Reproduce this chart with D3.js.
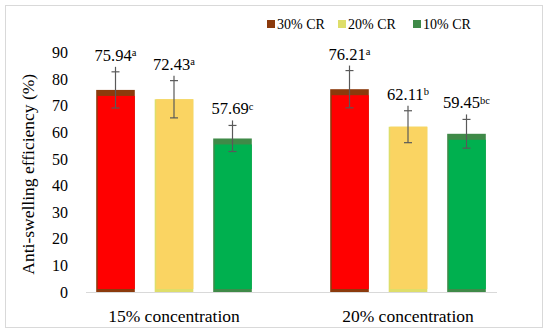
<!DOCTYPE html>
<html>
<head>
<meta charset="utf-8">
<script src="https://cdn.jsdelivr.net/npm/d3@7"></script>
<style>
  body { margin: 0; background: #fff; }
  svg { display: block; font-family: "Liberation Serif", "DejaVu Serif", serif; }
</style>
</head>
<body>
<div id="app"></div>
<script>
const width = 550,
  height = 335;

// data
const groups = ["15% concentration", "20% concentration"];
const series = ["30% CR", "20% CR", "10% CR"];
const means = [
  [75.94, 72.43, 57.69],
  [76.21, 62.11, 59.45]
];
const errors = [
  [6.8, 7.0, 4.9],
  [7.0, 6.0, 5.4]
];
const letters = [
  ["a", "a", "c"],
  ["a", "b", "bc"]
];
const yTicks = [0, 10, 20, 30, 40, 50, 60, 70, 80, 90];

const barColor = ["#ff0000", "#fad462", "#00b04f"];
const edgeColor = ["#8b3a0c", "#dede6a", "#3f8a48"];
const topBand = [6, 0, 6];

const svg = d3.select("#app")
  .append("svg")
  .attr("width", width)
  .attr("height", height);

// chart frame
svg.append("rect")
  .attr("x", 5.5)
  .attr("y", 5.5)
  .attr("width", 537)
  .attr("height", 322)
  .style("fill", "none")
  .style("stroke", "#d9d9d9");

const y = d3.scaleLinear()
  .domain([0, 90])
  .range([292, 52.5]);

const x0 = d3.scaleBand()
  .domain(groups)
  .range([57, 525]);

const x1 = d3.scaleBand()
  .domain(series)
  .range([0, x0.bandwidth()])
  .paddingInner(0.34)
  .paddingOuter(0.67);

// y tick labels (no axis line)
const yAxis = svg.append("g")
  .attr("transform", "translate(76,0)")
  .call(d3.axisLeft(y).tickValues(yTicks).tickSize(0).tickPadding(8));
yAxis.select(".domain").remove();
yAxis.selectAll("text")
  .style("font-family", "Liberation Serif, serif")
  .style("font-size", "16px")
  .attr("fill", "#000");

svg.append("text")
  .attr("transform", `translate(34,${(y(0) + y(90)) / 2 + 2}) rotate(-90)`)
  .style("text-anchor", "middle")
  .style("font-size", "17.5px")
  .text("Anti-swelling efficiency (%)");

// rows of bars
const rows = groups.map((g, gi) => series.map((s, si) => ({
  g: g, s: s, si: si,
  v: means[gi][si],
  e: errors[gi][si],
  l: letters[gi][si]
})));

const gGroups = svg.append("g")
  .selectAll("g")
  .data(rows)
  .join("g")
  .attr("transform", (d, i) => `translate(${x0(groups[i])},0)`);

const cells = gGroups.selectAll("g.cell")
  .data(d => d)
  .join("g")
  .attr("class", "cell");

// darker under-bar (edge colour), then bright fill on top
cells.append("rect")
  .attr("x", d => x1(d.s))
  .attr("y", d => y(d.v))
  .attr("width", x1.bandwidth())
  .attr("height", d => y(0) - y(d.v))
  .style("fill", d => edgeColor[d.si]);

cells.append("rect")
  .attr("x", d => x1(d.s) + 1.5)
  .attr("y", d => y(d.v) + topBand[d.si])
  .attr("width", x1.bandwidth() - 1.5)
  .attr("height", d => y(0) - y(d.v) - topBand[d.si] - 3)
  .style("fill", d => barColor[d.si]);

// error bars
const cx = d => x1(d.s) + x1.bandwidth() / 2;
cells.append("line")
  .attr("x1", cx).attr("x2", cx)
  .attr("y1", d => y(d.v + d.e) - 5)
  .attr("y2", d => y(d.v - d.e))
  .style("stroke", "#595959")
  .style("stroke-width", 1.2);
cells.append("line")
  .attr("x1", d => cx(d) - 4).attr("x2", d => cx(d) + 4)
  .attr("y1", d => y(d.v + d.e)).attr("y2", d => y(d.v + d.e))
  .style("stroke", "#595959")
  .style("stroke-width", 1.2);
cells.append("line")
  .attr("x1", d => cx(d) - 4).attr("x2", d => cx(d) + 4)
  .attr("y1", d => y(d.v - d.e)).attr("y2", d => y(d.v - d.e))
  .style("stroke", "#595959")
  .style("stroke-width", 1.2);

// value labels with superscript letters
const lab = cells.append("text")
  .attr("x", cx)
  .attr("y", d => y(d.v + d.e) - 11)
  .style("text-anchor", "middle")
  .style("font-size", "16.5px");
lab.append("tspan").text(d => d.v.toFixed(2));
lab.append("tspan")
  .attr("dy", "-0.45em")
  .style("font-size", "10.5px")
  .text(d => d.l);

// horizontal axis line
svg.append("line")
  .attr("x1", 86).attr("x2", 497)
  .attr("y1", y(0) + 0.5).attr("y2", y(0) + 0.5)
  .style("stroke", "#d9d9d9");

svg.append("g")
  .selectAll("text")
  .data(groups)
  .join("text")
  .attr("x", d => x0(d) + x0.bandwidth() / 2)
  .attr("y", 322)
  .style("text-anchor", "middle")
  .style("font-size", "17.5px")
  .text(d => d);

// legend
const legendX = [267, 338, 413];
const legend = svg.append("g")
  .selectAll("g")
  .data(series)
  .join("g")
  .attr("transform", (d, i) => `translate(${legendX[i]},20)`);
legend.append("rect")
  .attr("width", 8).attr("height", 8)
  .style("fill", (d, i) => edgeColor[i]);
legend.append("text")
  .attr("x", 10)
  .attr("y", 8.5)
  .style("font-size", "14px")
  .text(d => d);
</script>
</body>
</html>
